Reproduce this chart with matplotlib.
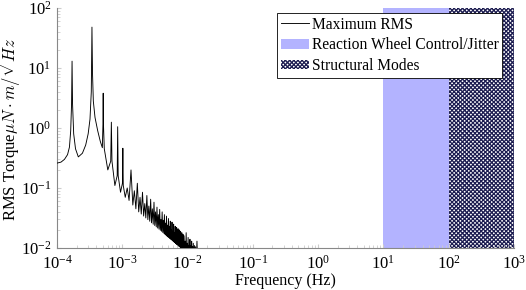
import numpy as np
import matplotlib
matplotlib.use("Agg")
import matplotlib.pyplot as plt
from matplotlib.lines import Line2D
from matplotlib.patches import Patch

plt.rcParams['font.family'] = ['Liberation Serif', 'DejaVu Serif']
plt.rcParams['mathtext.fontset'] = 'cm'
plt.rcParams['hatch.linewidth'] = 0.9

# low-frequency part of the spectrum: vertices (mHz, RMS torque)
low_freq_mhz = [0.100, 0.115, 0.130, 0.145, 0.155, 0.162, 0.167, 0.170, 0.173, 0.180,
                0.192, 0.212, 0.245, 0.275, 0.300, 0.320, 0.335, 0.343, 0.350, 0.360,
                0.382, 0.420, 0.460, 0.495, 0.506, 0.510, 0.514, 0.530, 0.600, 0.665,
                0.680, 0.695, 0.770, 0.835, 0.850, 0.865, 0.940, 1.005, 1.020, 1.035,
                1.110, 1.190, 1.270, 1.360, 1.450, 1.530, 1.615, 1.700, 1.785]
low_rms = [0.26, 0.27, 0.30, 0.36, 0.48, 0.9, 2.5, 13.0, 2.5, 0.8,
           0.45, 0.33, 0.38, 0.52, 0.80, 1.4, 4.0, 48.0, 8.0, 2.8,
           1.5, 0.9, 0.6, 0.47, 1.2, 3.8, 1.2, 0.45, 0.20, 0.28,
           1.25, 0.28, 0.11, 0.16, 1.05, 0.16, 0.085, 0.12, 0.46, 0.11,
           0.07, 0.10, 0.062, 0.20, 0.052, 0.09, 0.045, 0.12, 0.040]

# dense harmonic comb: peak tips and the trough that follows each one
dense_peak_mhz = [1.87, 2.04, 2.21, 2.38, 2.55, 2.72, 2.89, 3.06, 3.23, 3.40,
                  3.57, 3.74, 3.91, 4.08, 4.25, 4.42, 4.59, 4.76, 4.93, 5.10,
                  5.27, 5.44, 5.61, 5.78, 5.95, 6.12, 6.29, 6.46, 6.63, 6.80,
                  6.97, 7.14, 7.31, 7.48, 7.65, 7.82, 7.99, 8.16, 8.33, 8.50,
                  8.84, 9.18, 9.52, 9.86, 10.2, 10.54, 10.88, 11.22, 11.56, 11.9,
                  12.24, 12.75, 13.26, 13.94]
dense_peak_rms = [0.07, 0.085, 0.055, 0.075, 0.05, 0.065, 0.045, 0.058, 0.04, 0.048,
                  0.036, 0.044, 0.03, 0.04, 0.029, 0.036, 0.026, 0.034, 0.024, 0.031,
                  0.023, 0.028, 0.02, 0.027, 0.019, 0.025, 0.018, 0.023, 0.017, 0.022,
                  0.016, 0.021, 0.015, 0.02, 0.014, 0.019, 0.0145, 0.018, 0.013, 0.017,
                  0.016, 0.013, 0.018, 0.012, 0.015, 0.011, 0.014, 0.011, 0.013, 0.0105,
                  0.012, 0.011, 0.0105, 0.013]
dense_trough_rms = [0.0368, 0.0341, 0.0317, 0.0297, 0.0279, 0.0263, 0.0249, 0.0237, 0.0225, 0.0215,
                    0.0206, 0.0197, 0.0190, 0.0182, 0.0176, 0.0170, 0.0164, 0.0158, 0.0153, 0.0149,
                    0.0144, 0.0140, 0.0136, 0.0133, 0.0129, 0.0126, 0.0123, 0.0120, 0.0117, 0.0114,
                    0.0112, 0.0109, 0.0107, 0.0105, 0.0103, 0.0100, 0.0099, 0.0097, 0.0095, 0.0093,
                    0.0090, 0.0085, 0.0082, 0.0080, 0.0078, 0.0075, 0.0072, 0.0070, 0.0068, 0.0066,
                    0.0064, 0.0062, 0.0060, 0.0050]

rw_band = (10, 100)       # Hz
struct_band = (100, 1000)  # Hz

# build the polyline
pk = np.array(dense_peak_mhz)
tr_f = np.sqrt(pk[:-1] * pk[1:])
tr_f = np.append(tr_f, pk[-1] * 1.03)
dense_f = np.empty(2 * len(pk))
dense_v = np.empty(2 * len(pk))
dense_f[0::2] = pk
dense_f[1::2] = tr_f
dense_v[0::2] = dense_peak_rms
dense_v[1::2] = dense_trough_rms

freq = np.concatenate([low_freq_mhz, dense_f]) * 1e-3
rms = np.concatenate([low_rms, dense_v])

fig = plt.figure(figsize=(5.26, 2.90), dpi=100)
ax = fig.add_axes([0.1084, 0.1448, 0.8686, 0.8276])

ax.axvspan(*rw_band, facecolor='#b3b3ff', linewidth=0, zorder=1)
ax.axvspan(*struct_band, facecolor='white', edgecolor='#1c1c50', hatch='xxxxxxxx',
           linewidth=0, zorder=1)
ax.plot(freq, rms, color='black', linewidth=0.65, zorder=3)

ax.set_xscale('log')
ax.set_yscale('log')
ax.set_xlim(1e-4, 1e3)
ax.set_ylim(1e-2, 1e2)

for s in ['top', 'right']:
    ax.spines[s].set_visible(False)
for s in ['left', 'bottom']:
    ax.spines[s].set_color('#888888')
    ax.spines[s].set_linewidth(0.8)
ax.tick_params(which='both', direction='in', color='#cccccc', labelsize=12)
ax.tick_params(which='major', length=3, pad=4)
ax.tick_params(axis='x', which='major', pad=5)
ax.tick_params(which='minor', length=2)

ax.set_xlabel('Frequency (Hz)', fontsize=11.5, labelpad=0)
ax.set_ylabel(r'RMS Torque$\mu N \cdot m/\sqrt{Hz}$', fontsize=12)
ax.yaxis.set_label_coords(-0.076, 0.5)

handles = [Line2D([], [], color='black', linewidth=0.65),
           Patch(facecolor='#b3b3ff', linewidth=0),
           Patch(facecolor='white', edgecolor='#1c1c50', hatch='xxxxxxxx', linewidth=0)]
labels = ['Maximum RMS', 'Reaction Wheel Control/Jitter', 'Structural Modes']
leg = ax.legend(handles, labels, loc='upper right', bbox_to_anchor=(0.975, 0.98),
                fontsize=11.2, frameon=True, fancybox=False, framealpha=1,
                edgecolor='black', handlelength=1.8, handleheight=0.6,
                handletextpad=0.2, borderpad=0.25, labelspacing=0.3,
                borderaxespad=0)
leg.get_frame().set_linewidth(0.6)
leg.set_zorder(5)

fig.savefig('out.png', dpi=100)
